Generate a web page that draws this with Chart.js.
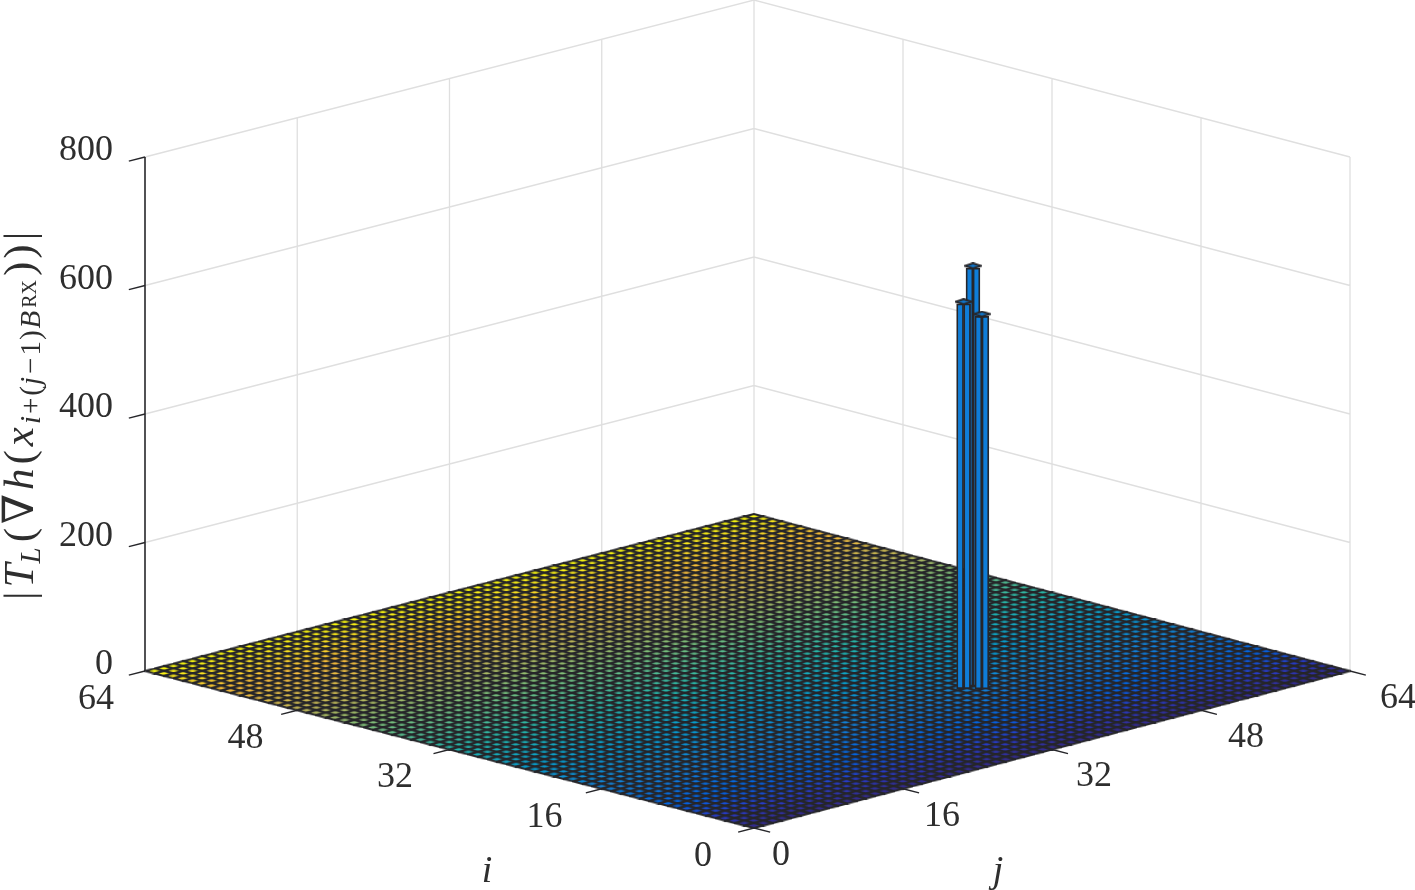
<!DOCTYPE html>
<html>
<head>
<meta charset="utf-8">
<style>html,body{margin:0;padding:0;background:#fff}canvas{display:block;filter:blur(0.55px)}</style>
<script src="https://cdn.jsdelivr.net/npm/chart.js@4"></script>
</head>
<body>
<canvas id="c" width="1415" height="890"></canvas>
<script>
// ---- data ----
const iTicks = [0, 16, 32, 48, 64];
const jTicks = [0, 16, 32, 48, 64];
const zTicks = [0, 200, 400, 600, 800];
const gridCount = 64;
// the three tall bars, painted back to front (all other cells are about 0)
const peakI = [17.5, 17.5, 16.5];
const peakJ = [41.15, 40.15, 41.1];
const peakZ = [651, 599, 580];
// parula colormap stops
const parulaT = [0, 0.07, 0.14, 0.25, 0.375, 0.5, 0.625, 0.75, 0.875, 1];
const parulaRGB = [[53,42,135],[40,60,200],[3,99,225],[20,128,214],[7,156,207],[37,181,170],[113,191,128],[194,184,87],[252,190,58],[249,251,14]];
const barColor = '#0f7dd8';
const edgeColor = '#26262a';
const gridColor = '#dfdfdf';
const textColor = '#2e2e2e';

// oblique view: floor indices -> x scale units; height + floor depth -> y scale units
const unitI = 64.69 / 64, unitJ = 63.31 / 64, skew = 1.38 / 4096, depth = 3.818;
const project = (i, j, z) => ({ x: j * unitJ - i * unitI + i * j * skew, y: z + (i + j - 64) * depth });

function parula(t) {
  let k = 0;
  while (k < parulaT.length - 2 && t > parulaT[k + 1]) k++;
  const f = (t - parulaT[k]) / (parulaT[k + 1] - parulaT[k]);
  const c = parulaRGB[k].map((v, n) => Math.round(v + (parulaRGB[k + 1][n] - v) * f));
  return `rgb(${c[0]},${c[1]},${c[2]})`;
}
function diamond(w, h, fill, lw) {
  const cv = document.createElement('canvas');
  cv.width = Math.ceil(w + 2); cv.height = Math.ceil(h + 2);
  const g = cv.getContext('2d'), cx = cv.width / 2, cy = cv.height / 2;
  g.beginPath();
  g.moveTo(cx - w / 2, cy); g.lineTo(cx, cy - h / 2); g.lineTo(cx + w / 2, cy); g.lineTo(cx, cy + h / 2); g.closePath();
  g.fillStyle = fill; g.fill();
  g.strokeStyle = edgeColor; g.lineWidth = lw; g.stroke();
  return cv;
}
const lineSet = (pts, color, width) => ({
  type: 'scatter', data: pts, showLine: true, borderColor: color, borderWidth: width,
  pointRadius: 0, clip: false, spanGaps: false, tension: 0
});

const painted = [];
// back walls
const wallPts = [];
zTicks.slice(1).forEach(z => {
  wallPts.push(project(64, 0, z), project(64, 64, z), project(0, 64, z), { x: NaN, y: NaN });
});
jTicks.slice(1).forEach(j => wallPts.push(project(64, j, 0), project(64, j, 800), { x: NaN, y: NaN }));
iTicks.slice(0, -1).forEach(i => wallPts.push(project(i, 64, 0), project(i, 64, 800), { x: NaN, y: NaN }));
painted.push(lineSet(wallPts, gridColor, 1.3));

// tick marks and the height axis
const tickPts = [];
zTicks.forEach(z => tickPts.push(project(64, 0, z), project(64, -1.7, z), { x: NaN, y: NaN }));
iTicks.forEach(i => tickPts.push(project(i, 0, 0), project(i, -1.7, 0), { x: NaN, y: NaN }));
jTicks.forEach(j => tickPts.push(project(0, j, 0), project(-1.7, j, 0), { x: NaN, y: NaN }));
painted.push(lineSet(tickPts, edgeColor, 1.4));
painted.push(lineSet([project(64, 0, 0), project(64, 0, 800)], edgeColor, 1.6));

// floor of near-zero bars, far rows first
for (let r = gridCount; r >= 1; r--) {
  const pts = [];
  for (let c = gridCount; c >= 1; c--) pts.push(project(r - 0.5, c - 0.5, 0));
  painted.push({
    type: 'scatter', data: pts, showLine: false, clip: false,
    pointStyle: diamond(18.8, 4.9, parula((r - 0.5) / gridCount), 2.1),
    pointRadius: 3, pointBorderWidth: 0
  });
}

// tall bars: two visible faces and a cap
const faceShift = 0.37, capDrop = 3.4;
peakZ.forEach((z, n) => {
  const base = project(peakI[n], peakJ[n], 0), top = project(peakI[n], peakJ[n], z);
  painted.push({
    type: 'bar', grouped: false, barThickness: 7, clip: false,
    data: [
      { x: base.x - faceShift, y: [base.y - capDrop, top.y - capDrop] },
      { x: base.x + faceShift, y: [base.y - capDrop, top.y - capDrop] }
    ],
    backgroundColor: barColor, borderColor: edgeColor, borderWidth: 1.8, borderSkipped: false
  });
  painted.push({
    type: 'scatter', data: [top], showLine: false, clip: false,
    pointStyle: diamond(15.5, 5, barColor, 2), pointRadius: 3, pointBorderWidth: 0
  });
});
painted.forEach((d, n) => { d.order = painted.length - n; });

const serif = '"Liberation Serif", "DejaVu Serif", serif';
const labelPlugin = {
  id: 'viewLabels',
  afterDraw(chart) {
    const { ctx, scales: { x, y } } = chart;
    const px = p => [x.getPixelForValue(p.x), y.getPixelForValue(p.y)];
    ctx.save();
    ctx.fillStyle = textColor;
    ctx.textBaseline = 'alphabetic';
    ctx.font = '36px ' + serif;
    ctx.textAlign = 'right';
    iTicks.forEach(i => {
      const [a, b] = px(project(i, 0, 0));
      ctx.fillText(String(i), a - 42 + 11 * i / 64, b + 38);
    });
    ctx.textAlign = 'left';
    jTicks.forEach(j => {
      const [a, b] = px(project(0, j, 0));
      ctx.fillText(String(j), a + 18 + 12 * j / 64, b + 37);
    });
    ctx.font = 'italic 38px ' + serif;
    ctx.textAlign = 'center';
    ctx.fillText('i', 487, 882);
    ctx.fillText('j', 998, 882);

    // height-axis title, set run by run along the rotated baseline
    ctx.translate(33, 600);
    ctx.rotate(-Math.PI / 2);
    ctx.textAlign = 'left';
    const R = 43, S = 29, T = 20;
    const runs = [
      ['|', '', R, 0, 4], ['T', 'italic ', R, 0, 0], ['L', 'italic ', S, -7, 5], ['(', '', R, 0, 4], ['\u2207', '', R, 0, 4],
      ['h', 'italic ', R, 0, 4], ['(', '', R, 0, 4], ['x', 'italic ', R, 0, 3], ['i', 'italic ', S, -7, 2], ['+', '', S, -7, 2],
      ['(', '', S, -7, 1], ['j', 'italic ', S, -7, 3], ['\u2212', '', S, -7, 2], ['1', '', S, -7, 1], [')', '', S, -7, 2],
      ['B', 'italic ', S, -7, 3], ['RX', '', T, -3, 4], [')', '', R, 0, 3], [')', '', R, 0, 4], ['|', '', R, 0, 0]
    ];
    let pos = 0;
    runs.forEach(([txt, style, size, shift, gap]) => {
      ctx.font = style + size + 'px ' + serif;
      ctx.fillText(txt, pos, -shift);
      pos += ctx.measureText(txt).width + gap;
    });
    ctx.restore();
  }
};

const zPerPx = 1 / 0.6425;
new Chart(document.getElementById('c'), {
  data: { datasets: painted },
  plugins: [labelPlugin],
  options: {
    responsive: false, animation: false, events: [],
    layout: { autoPadding: false, padding: { left: 0, right: 65, top: 0, bottom: 0 } },
    plugins: { legend: { display: false }, tooltip: { enabled: false }, title: { display: false } },
    scales: {
      x: { type: 'linear', display: false, offset: false, min: -64.69, max: 63.31 },
      y: {
        type: 'linear', offset: false, min: -219 * zPerPx, max: 671 * zPerPx,
        afterBuildTicks: s => { s.ticks = zTicks.map(v => ({ value: v })); },
        afterFit: s => { s.width = 145; s.paddingTop = 0; s.paddingBottom = 0; },
        grid: { display: false }, border: { display: false },
        ticks: {
          color: textColor, font: { family: serif, size: 36 }, padding: 24,
          labelOffset: -6, autoSkip: false, maxRotation: 0, minRotation: 0
        }
      }
    }
  }
});
</script>
</body>
</html>
